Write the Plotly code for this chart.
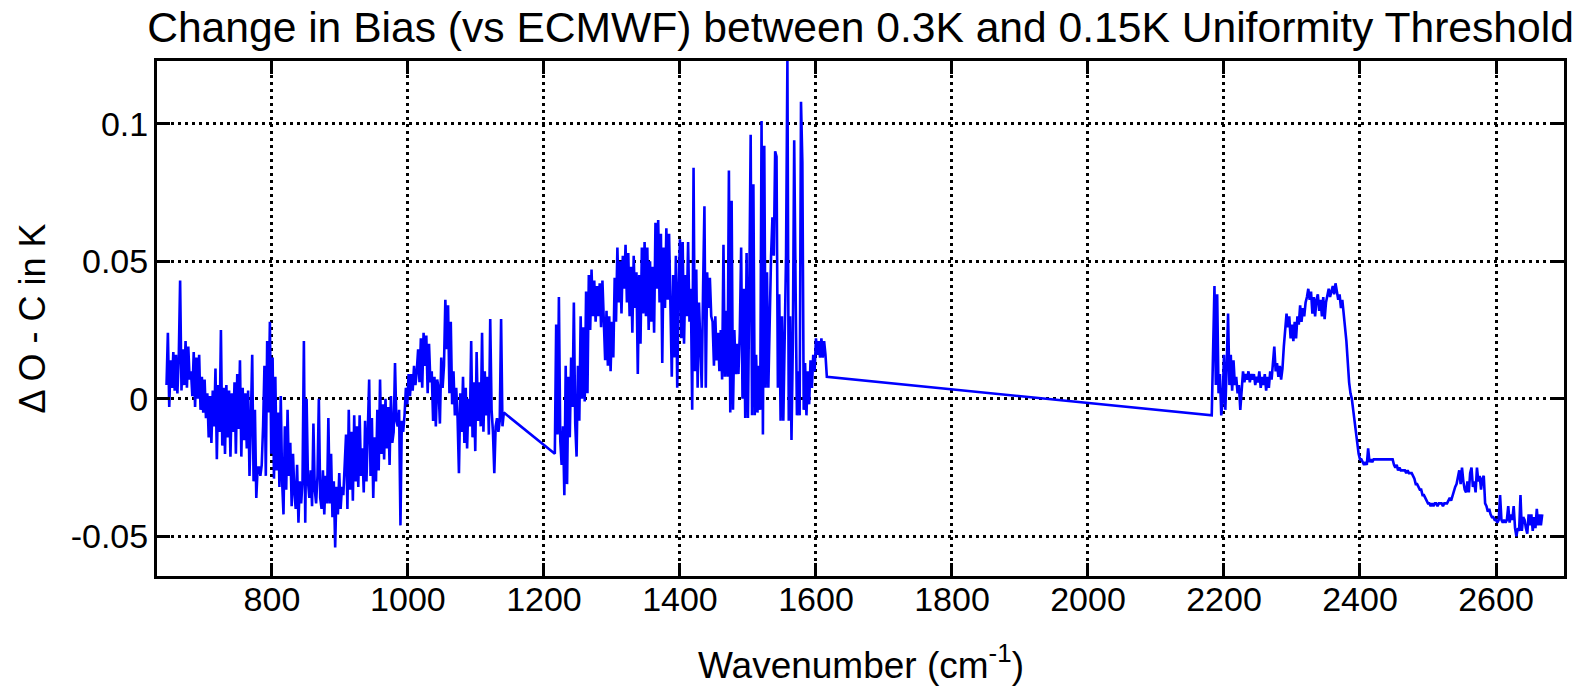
import numpy as np
import plotly.graph_objects as go

# ---- data ----
# Region A: 645 - 1141 cm-1, 2 cm-1 channel spacing
wn_start_a = 645
dT_a = [
    0.005, 0.024, -0.003, 0.014, 0.004, 0.017, 0.003, 0.016, 0.002, 0.015,
    0.043, 0.003, 0.018, 0.005, 0.021, 0.004, 0.019, 0.007, 0.010, 0.001,
    0.017, -0.003, 0.015, 0.000, 0.016, -0.004, 0.008, -0.005, 0.007, -0.007,
    0.002, -0.014, 0.001, -0.016, 0.003, -0.010, 0.011, -0.022, 0.005, -0.012,
    0.025, -0.017, 0.004, -0.020, 0.005, -0.014, 0.003, -0.021, 0.002, -0.012,
    0.006, -0.020, 0.009, -0.011, 0.014, -0.021, 0.004, -0.015, 0.002, -0.018,
    0.003, -0.028, -0.008, 0.016, -0.030, -0.004, -0.036, -0.025, -0.025, -0.028,
    -0.024, -0.010, 0.012, -0.028, 0.021, -0.005, 0.028, -0.020, 0.015, -0.029,
    0.008, -0.026, -0.005, -0.032, 0.001, -0.030, -0.042, -0.010, -0.033, -0.004,
    -0.028, -0.016, -0.039, -0.020, -0.034, -0.040, -0.024, -0.045, -0.030, -0.038,
    -0.030, 0.021, -0.045, 0.000, -0.030, -0.036, -0.026, -0.039, -0.009, -0.033,
    -0.038, -0.028, 0.000, -0.036, -0.040, -0.026, -0.042, -0.028, -0.038, -0.007,
    -0.038, -0.020, -0.043, -0.030, -0.054, -0.032, -0.042, -0.027, -0.040, -0.032,
    -0.035, -0.026, -0.013, -0.040, -0.004, -0.033, -0.012, -0.037, -0.006, -0.030,
    -0.010, -0.032, -0.006, -0.028, -0.018, -0.034, -0.008, -0.030, -0.012, 0.007,
    -0.028, -0.007, -0.036, -0.014, -0.030, -0.004, -0.026, 0.007, -0.020, -0.002,
    -0.022, 0.000, -0.018, -0.003, -0.024, 0.001, -0.016, -0.012, 0.013, -0.008,
    -0.010, -0.004, -0.046, -0.008, -0.012, -0.006, 0.004, -0.002, 0.009, 0.001,
    0.009, 0.003, 0.012, 0.005, 0.010, 0.018, 0.006, 0.022, 0.004, 0.024,
    0.012, 0.023, 0.002, 0.020, 0.006, 0.010, -0.008, 0.008, -0.010, 0.007,
    0.004, -0.009, 0.015, 0.004, 0.012, 0.036, 0.018, 0.034, 0.002, 0.028,
    -0.002, 0.010, -0.006, 0.004, -0.007, -0.027, 0.002, -0.012, 0.008, -0.016,
    0.004, -0.018, 0.000, -0.010, 0.021, -0.014, 0.006, -0.019, 0.017, -0.008,
    0.006, -0.010, 0.024, -0.012, 0.010, -0.006, 0.008, -0.013, 0.029, -0.004,
    -0.012, -0.027, -0.010, -0.007, -0.012, -0.008, 0.029, -0.010, -0.005,
]

# Region B: 1216 - 1616 cm-1
wn_start_b = 1216
dT_b = [
    -0.020,
    0.027, -0.013, 0.037, -0.015, -0.024, -0.010, -0.035, 0.012, -0.031, 0.008,
    -0.014, 0.015, -0.003, 0.035, -0.009, -0.021, 0.012, -0.008, 0.030, 0.000,
    0.026, -0.001, 0.039, 0.002, 0.045, 0.025, 0.047, 0.030, 0.043, 0.028,
    0.041, 0.030, 0.042, 0.026, 0.043, 0.025, 0.014, 0.032, 0.012, 0.030,
    0.010, 0.028, 0.015, 0.044, 0.028, 0.055, 0.035, 0.050, 0.031, 0.052,
    0.040, 0.056, 0.035, 0.053, 0.030, 0.048, 0.024, 0.052, 0.033, 0.046,
    0.009, 0.045, 0.020, 0.055, 0.031, 0.057, 0.030, 0.055, 0.025, 0.050,
    0.028, 0.048, 0.024, 0.064, 0.040, 0.065, 0.035, 0.060, 0.013, 0.055,
    0.033, 0.062, 0.036, 0.060, 0.034, 0.008, 0.045, 0.015, 0.052, 0.004,
    0.040, 0.058, 0.022, 0.057, 0.020, 0.045, 0.030, 0.057, 0.028, 0.040,
    -0.004, 0.084, 0.010, 0.047, 0.004, 0.035, 0.020, 0.004, 0.040, 0.070,
    0.004, 0.046, 0.033, 0.044, 0.030, 0.028, 0.012, 0.030, 0.014, 0.024,
    0.010, 0.025, 0.007, 0.056, 0.008, 0.032, 0.008, 0.083, -0.005, 0.072,
    -0.004, 0.025, 0.009, 0.020, 0.009, 0.024, 0.055, 0.000, 0.040, -0.007,
    0.053, -0.007, 0.040, 0.096, -0.006, 0.078, -0.006, 0.016, -0.005, 0.012,
    -0.004, 0.101, -0.013, 0.092, 0.004, 0.046, 0.004, 0.030, 0.052, 0.066,
    0.052, 0.090, 0.088, 0.004, 0.038, -0.008, 0.030, -0.008, 0.020, 0.052,
    0.123, -0.008, 0.030, -0.015, 0.020, 0.094, 0.042, -0.006, 0.010, -0.006,
    0.108, 0.086, -0.004, 0.013, -0.006, 0.010, -0.002, 0.014, 0.004, 0.016,
    0.010, 0.022, 0.016, 0.021, 0.015, 0.022, 0.015, 0.021, 0.016, 0.008,
]

# Region C: 2182 - 2668 cm-1
wn_start_c = 2182
dT_c = [
    -0.006, 0.024, 0.041, 0.005, 0.038, 0.002, 0.009, -0.006, -0.001, 0.016,
    -0.004, 0.012, 0.031, 0.005, 0.016, 0.003, 0.014, 0.005, 0.008, 0.002,
    0.005, -0.004, 0.005, 0.010, 0.006, 0.009, 0.007, 0.010, 0.006, 0.009,
    0.007, 0.009, 0.005, 0.008, 0.006, 0.010, 0.004, 0.008, 0.005, 0.009,
    0.003, 0.008, 0.004, 0.010, 0.007, 0.015, 0.019, 0.010, 0.013, 0.008,
    0.012, 0.007, 0.011, 0.019, 0.024, 0.031, 0.026, 0.030, 0.022, 0.027,
    0.021, 0.028, 0.022, 0.030, 0.027, 0.034, 0.028, 0.033, 0.030, 0.035,
    0.037, 0.040, 0.036, 0.039, 0.031, 0.037, 0.030, 0.036, 0.038, 0.032,
    0.036, 0.030, 0.037, 0.029, 0.035, 0.038, 0.040, 0.037, 0.039, 0.041,
    0.038, 0.042, 0.039, 0.036, 0.038, 0.033, 0.036, 0.032, 0.026, 0.021,
    0.013, 0.006, 0.002, 0.000, -0.004, -0.008, -0.013, -0.018, -0.020, -0.022,
    -0.022, -0.023, -0.024, -0.023, -0.024, -0.018, -0.023, -0.022, -0.023, -0.022,
    -0.022, -0.022, -0.022, -0.022, -0.022, -0.022, -0.022, -0.022, -0.022, -0.022,
    -0.022, -0.022, -0.022, -0.022, -0.024, -0.025, -0.024, -0.026, -0.025, -0.026,
    -0.026, -0.026, -0.026, -0.027, -0.026, -0.027, -0.027, -0.027, -0.028, -0.029,
    -0.031, -0.031, -0.032, -0.033, -0.033, -0.035, -0.035, -0.036, -0.037, -0.038,
    -0.038, -0.039, -0.038, -0.039, -0.038, -0.038, -0.039, -0.038, -0.038, -0.038,
    -0.039, -0.038, -0.038, -0.038, -0.037, -0.036, -0.037, -0.035, -0.034, -0.032,
    -0.031, -0.028, -0.026, -0.031, -0.025, -0.030, -0.033, -0.034, -0.030, -0.034,
    -0.027, -0.025, -0.032, -0.030, -0.034, -0.025, -0.030, -0.028, -0.033, -0.029,
    -0.028, -0.038, -0.039, -0.041, -0.040, -0.042, -0.043, -0.043, -0.044, -0.044,
    -0.045, -0.044, -0.035, -0.044, -0.045, -0.044, -0.045, -0.044, -0.039, -0.045,
    -0.042, -0.044, -0.039, -0.047, -0.050, -0.047, -0.048, -0.035, -0.048, -0.043,
    -0.044, -0.047, -0.049, -0.042, -0.046, -0.042, -0.048, -0.043, -0.047, -0.040,
    -0.046, -0.042, -0.046, -0.042,
]
channel_step = 2

x_ticks = [800, 1000, 1200, 1400, 1600, 1800, 2000, 2200, 2400, 2600]
y_ticks = [-0.05, 0, 0.05, 0.1]
y_tick_text = ["-0.05", "0", "0.05", "0.1"]

# ---- build series ----
wn = np.concatenate([
    wn_start_a + channel_step * np.arange(len(dT_a)),
    wn_start_b + channel_step * np.arange(len(dT_b)),
    wn_start_c + channel_step * np.arange(len(dT_c)),
])
dT = np.concatenate([dT_a, dT_b, dT_c])

FONT = "Liberation Sans, Arial, Helvetica, sans-serif"

fig = go.Figure()
fig.add_trace(go.Scatter(
    x=wn, y=dT, mode="lines",
    line=dict(color="#0000ff", width=2.6),
    showlegend=False, hoverinfo="skip",
))

axis_common = dict(
    showline=True, linecolor="black", linewidth=3, mirror="ticks",
    ticks="inside", ticklen=13, tickwidth=3, tickcolor="black",
    showgrid=True, gridcolor="black", gridwidth=2.5, griddash="3px,4px",
    zeroline=False,
    tickfont=dict(family=FONT, size=34, color="black"),
)

fig.update_xaxes(range=[631, 2700], tickvals=x_ticks, ticklabelstandoff=-9, **axis_common)
fig.update_yaxes(range=[-0.0644, 0.1228], tickvals=y_ticks, ticktext=y_tick_text,
                 ticklabelstandoff=-1, **axis_common)

fig.update_layout(
    width=1589, height=692,
    margin=dict(l=157, r=25, t=61, b=116),
    paper_bgcolor="white", plot_bgcolor="white",
    title=dict(
        text="Change in Bias (vs ECMWF) between 0.3K and 0.15K Uniformity Threshold",
        x=0.5, xref="paper", xanchor="center",
        y=1 - 27.5 / 692, yref="container", yanchor="middle",
        font=dict(family=FONT, size=42.6, color="black"),
    ),
    annotations=[
        dict(text="Wavenumber (cm<sup>-1</sup>)", x=0.5, y=0, xref="paper", yref="paper",
             xanchor="center", yanchor="middle", yshift=-86, showarrow=False,
             font=dict(family=FONT, size=37, color="black")),
        dict(text="\u0394 O - C in K", x=0, y=0.5, xref="paper", yref="paper",
             xanchor="center", yanchor="middle", xshift=-125, textangle=-90,
             showarrow=False, font=dict(family=FONT, size=36, color="black")),
    ],
)

fig.write_html("out.html")
